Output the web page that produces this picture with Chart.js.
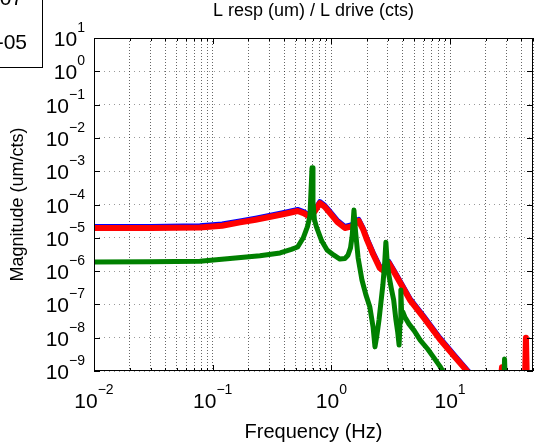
<!DOCTYPE html>
<html>
<head>
<meta charset="utf-8">
<title>L resp / L drive</title>
<script src="https://cdn.jsdelivr.net/npm/chart.js@4.4.1/dist/chart.umd.min.js"></script>
<style>
    html, body { margin: 0; padding: 0; background: #fff; }
    #wrap { width: 537px; height: 447px; }
</style>
</head>
<body>
<div id="wrap"><canvas id="bode" width="537" height="447"></canvas></div>
<script>
/* ============================
   Data
   ============================ */

// red + blue traces share frequencies
const freqRed = [0.01, 0.03, 0.078, 0.12, 0.17, 0.23, 0.30, 0.40, 0.52, 0.59, 0.66, 0.73, 0.80, 0.88, 0.97,
    1.12, 1.30, 1.49, 1.70, 1.85, 2.0, 2.25, 2.56, 2.7, 2.85, 3.05, 3.4, 4.6, 6.0, 8.2, 11, 13.9, 16, 20,
    26, 27.4, 28.5, 35, 42.5, 43.6, 44.7, 50];
const magRed = [1.97e-5, 1.98e-5, 2.05e-5, 2.3e-5, 2.9e-5, 3.5e-5, 4.2e-5, 5.2e-5, 6.4e-5, 5.4e-5, 4.2e-5, 6.5e-5, 1.1e-4, 8.5e-5, 5.6e-5,
    3.0e-5, 1.97e-5, 2.2e-5, 3.2e-5, 1.8e-5, 8.5e-6, 3.2e-6, 1.23e-6, 1.07e-6, 1.4e-6, 1.75e-6, 9e-7, 1.35e-7, 4e-8, 9e-9, 2.6e-9, 1e-9, 6e-10, 3e-10,
    2e-10, 1.3e-9, 2e-10, 1.5e-10, 1.5e-10, 1e-8, 1.5e-10, 1e-10];

const freqBlue = [0.01, 0.03, 0.078, 0.12, 0.17, 0.23, 0.30, 0.40, 0.52, 0.59, 0.66, 0.73, 0.80, 0.88, 0.97,
    1.12, 1.30, 1.49, 1.70, 1.85, 2.0, 2.25, 2.56, 2.7, 2.85, 3.05, 3.4, 4.6, 6.0, 8.2, 11, 13.9, 16, 20];
const magBlue = [2.2e-5, 2.2e-5, 2.3e-5, 2.6e-5, 3.2e-5, 3.9e-5, 4.7e-5, 5.8e-5, 7.1e-5, 6.0e-5, 4.7e-5, 7.2e-5, 1.22e-4, 9.5e-5, 6.3e-5,
    3.4e-5, 2.2e-5, 2.5e-5, 3.6e-5, 2.0e-5, 9.6e-6, 3.6e-6, 1.4e-6, 1.2e-6, 1.6e-6, 1.95e-6, 1.0e-6, 1.5e-7, 4.5e-8, 1.0e-8, 2.9e-9, 1.1e-9, 6.5e-10, 3.2e-10];

const freqGreen = [0.01, 0.03, 0.078, 0.14, 0.25, 0.37, 0.46, 0.52, 0.58, 0.63, 0.66, 0.687, 0.70, 0.72, 0.75, 0.83, 0.92,
    1.05, 1.18, 1.3, 1.38, 1.45, 1.5, 1.55, 1.6, 1.68, 1.81, 1.95, 2.11, 2.25, 2.33, 2.42, 2.52, 2.62, 2.72, 2.82,
    2.88, 2.95, 3.05, 3.2, 3.35, 3.5, 3.62, 3.72, 3.79, 3.85, 3.92, 4.0, 4.16, 4.5, 5.0, 5.6, 6.5, 7.5, 8.2, 9.0,
    12, 20, 28.0, 28.8, 29.6, 40, 50];
const magGreen = [1.87e-6, 1.9e-6, 1.97e-6, 2.4e-6, 2.9e-6, 3.5e-6, 4.5e-6, 5.3e-6, 1e-5, 2.2e-5, 4.5e-5, 1.26e-3, 1.2e-4, 3.5e-5, 2.1e-5, 8e-6, 4.3e-6,
    3e-6, 2.3e-6, 2.4e-6, 3.0e-6, 5e-6, 1.2e-5, 6.8e-5, 1.5e-5, 2.5e-6, 5.4e-7, 2e-7, 8.3e-8, 2e-8, 5.3e-9, 1.2e-8, 3.4e-8, 1.2e-7, 4e-7, 2e-6,
    7.4e-6, 2e-6, 7.6e-7, 3e-7, 1.35e-7, 3.4e-8, 1.5e-8, 6e-9, 3e-8, 2.7e-7, 4e-8, 5.9e-8, 4.2e-8, 2.6e-8, 1.6e-8, 8.5e-9, 4.5e-9, 2.2e-9, 1.4e-9, 8e-10,
    2e-10, 1e-10, 1e-10, 2.3e-9, 1e-10, 1e-10, 1e-10];

// axes
const xMin = 0.01, xMax = 50;
const yMin = 1e-9, yMax = 10;
const xDecades = [0.01, 0.1, 1, 10];
const xDecadeExps = ['\u22122', '\u22121', '0', '1'];
const yDecades = [1e1, 1e0, 1e-1, 1e-2, 1e-3, 1e-4, 1e-5, 1e-6, 1e-7, 1e-8, 1e-9];
const yDecadeExps = ['1', '0', '\u22121', '\u22122', '\u22123', '\u22124', '\u22125', '\u22126', '\u22127', '\u22128', '\u22129'];

const titleText = 'L resp (um) / L drive (cts)';
const xLabel = 'Frequency (Hz)';
const yLabel = 'Magnitude (um/cts)';
const legendTail = ['e-07', 'e-05'];   // clipped legend box at top left

/* ============================
   Helpers
   ============================ */

const FONT = '"Liberation Sans", Arial, Helvetica, sans-serif';

function toPoints(xs, ys) {
    return xs.map((x, i) => ({ x, y: ys[i] }));
}

// every 1..9 step inside each decade, used for the dotted vertical grid
function minorTicks(lo, hi) {
    const out = [];
    for (let d = lo; d < hi * 1.0001; d *= 10) {
        for (let k = 1; k <= 9; k++) {
            const v = +(k * d).toPrecision(3);
            if (v >= lo * 0.9999 && v <= hi * 1.0001) out.push(v);
        }
    }
    return out;
}
const xGridTicks = minorTicks(xMin, xMax);

function drawPow(ctx, exp, x, y, align) {
    ctx.font = '21px ' + FONT;
    const wBase = ctx.measureText('10').width;
    ctx.font = '14px ' + FONT;
    const wExp = ctx.measureText(exp).width;
    let start = x - (wBase + wExp) / 2;
    if (align === 'right') start = x - wBase - wExp;
    ctx.textAlign = 'left';
    ctx.textBaseline = 'alphabetic';
    ctx.font = '21px ' + FONT;
    ctx.fillText('10', start, y);
    ctx.font = '14px ' + FONT;
    ctx.fillText(exp, start + wBase, y - 14);
}

/* ============================
   MATLAB-like axes decoration
   ============================ */

const axesBox = {
    id: 'axesBox',
    afterDatasetsDraw(chart) {
        const { ctx, chartArea: a } = chart;
        const xs = chart.scales.x, ys = chart.scales.y;
        ctx.save();
        ctx.strokeStyle = '#000';
        ctx.lineWidth = 1;
        ctx.strokeRect(Math.round(a.left) + 0.5, Math.round(a.top) + 0.5,
            Math.round(a.right - a.left) - 1, Math.round(a.bottom - a.top) - 1);

        ctx.beginPath();
        xGridTicks.forEach(v => {
            const px = Math.round(xs.getPixelForValue(v)) + 0.5;
            const len = xDecades.includes(v) ? 6 : 3;
            ctx.moveTo(px, a.bottom); ctx.lineTo(px, a.bottom - len);
            ctx.moveTo(px, a.top); ctx.lineTo(px, a.top + len);
        });
        yDecades.forEach(v => {
            const py = Math.round(ys.getPixelForValue(v)) + 0.5;
            ctx.moveTo(a.left, py); ctx.lineTo(a.left + 6, py);
            ctx.moveTo(a.right, py); ctx.lineTo(a.right - 6, py);
        });
        ctx.stroke();
        ctx.restore();
    },
    afterDraw(chart) {
        const { ctx, chartArea: a } = chart;
        const xs = chart.scales.x, ys = chart.scales.y;
        ctx.save();
        ctx.fillStyle = '#000';

        xDecades.forEach((v, i) => {
            drawPow(ctx, xDecadeExps[i], xs.getPixelForValue(v), a.bottom + 37, 'center');
        });
        yDecades.forEach((v, i) => {
            drawPow(ctx, yDecadeExps[i], a.left - 9, ys.getPixelForValue(v) + 8, 'right');
        });

        // cut-off legend box
        ctx.strokeStyle = '#000';
        ctx.lineWidth = 1;
        ctx.strokeRect(-2.5, -2.5, 45, 70);
        ctx.font = '21px ' + FONT;
        ctx.textAlign = 'right';
        ctx.fillText(legendTail[0], 23, 5);
        ctx.fillText(legendTail[1], 27, 49);
        ctx.restore();
    }
};

/* ============================
   Chart
   ============================ */

new Chart(document.getElementById('bode'), {
    type: 'line',
    data: {
        datasets: [
            {
                label: 'green',
                data: toPoints(freqGreen, magGreen),
                borderColor: '#008000',
                borderWidth: 5,
                order: 0,
            },
            {
                label: 'red',
                data: toPoints(freqRed, magRed),
                borderColor: '#ff0000',
                borderWidth: 6,
                order: 1,
            },
            {
                label: 'blue',
                data: toPoints(freqBlue, magBlue),
                borderColor: '#0000ff',
                borderWidth: 5,
                order: 2,
            }
        ]
    },
    options: {
        responsive: false,
        animation: false,
        devicePixelRatio: 1,
        layout: { padding: { left: 0, right: 4, top: 0, bottom: 0 } },
        elements: {
            point: { radius: 0 },
            line: { tension: 0, borderJoinStyle: 'round', borderCapStyle: 'round', fill: false }
        },
        plugins: {
            legend: { display: false },
            tooltip: { enabled: false },
            title: {
                display: true,
                fullSize: false,   // center over the plot area, like MATLAB
                text: titleText,
                color: '#000',
                font: { family: FONT, size: 18, weight: 'normal' },
                padding: { top: 0, bottom: 16.4 }
            }
        },
        scales: {
            x: {
                type: 'logarithmic',
                min: xMin,
                max: xMax,
                afterBuildTicks: s => { s.ticks = xGridTicks.map(v => ({ value: v })); },
                afterFit: s => { s.height = 76; },
                ticks: { display: false },
                grid: { color: 'rgba(0,0,0,0.6)', lineWidth: 1, drawTicks: false },
                border: { display: false, dash: [1, 2] },
                title: {
                    display: true,
                    text: xLabel,
                    color: '#000',
                    font: { family: FONT, size: 20 },
                    padding: { top: 0, bottom: 3 }
                }
            },
            y: {
                type: 'logarithmic',
                min: yMin,
                max: yMax,
                afterBuildTicks: s => { s.ticks = yDecades.map(v => ({ value: v })); },
                afterFit: s => { s.width = 94; },
                ticks: { display: false },
                grid: { color: 'rgba(0,0,0,0.4)', lineWidth: 1, drawTicks: false },
                border: { display: false, dash: [1, 4] },
                title: {
                    display: true,
                    text: yLabel,
                    color: '#000',
                    font: { family: FONT, size: 18 },
                    padding: { top: 7, bottom: 0 }
                }
            }
        }
    },
    plugins: [axesBox]
});
</script>
</body>
</html>
